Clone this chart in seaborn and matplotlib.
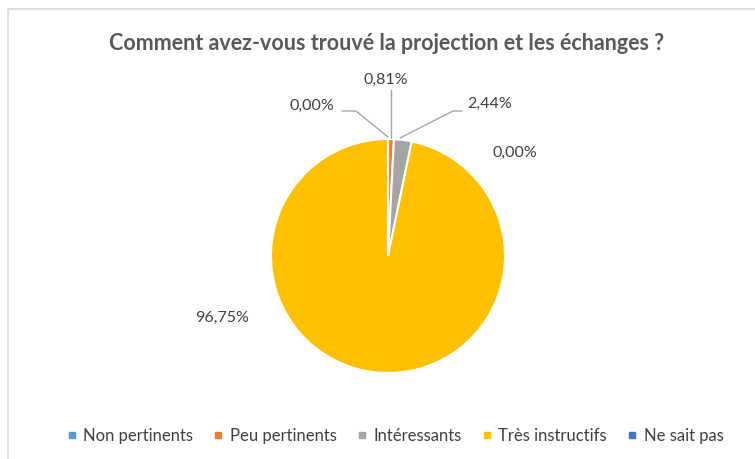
import matplotlib
matplotlib.use("Agg")
import matplotlib.pyplot as plt
from matplotlib.lines import Line2D
import seaborn as sns

categories = ["Non pertinents", "Peu pertinents", "Intéressants", "Très instructifs", "Ne sait pas"]
values = [0.00, 0.81, 2.44, 96.75, 0.00]
colors = ["#5B9BD5", "#ED7D31", "#A5A5A5", "#FFC000", "#4472C4"]
title = "Comment avez-vous trouvé la projection et les échanges ?"

sns.set_theme(style="white")
plt.rcParams['font.family'] = ['Lato', 'DejaVu Sans']

W, H = 755, 459
fig = plt.figure(figsize=(W / 100, H / 100), dpi=100)
fig.patch.set_facecolor("white")

cx, cy, r = 388, 256, 117
ax = fig.add_axes([(cx - r) / W, (H - cy - r) / H, 2 * r / W, 2 * r / H])
ax.pie(values, colors=colors, startangle=90, counterclock=False,
       wedgeprops=dict(edgecolor="white", linewidth=1.5))
ax.set_xlim(-1, 1)
ax.set_ylim(-1, 1)
ax.set_axis_off()

def d(px, py):
    return ((px - cx) / r, (cy - py) / r)

# label positions (pixels) and leader lines
label_pos = [(312, 106), (386, 80), (490, 104), (222, 318), (515, 153)]
leaders = [
    [(342, 111), (356, 111), (388, 137)],
    [(391, 90), (391, 138)],
    [(462, 111), (453, 111), (400, 138)],
    None,
    None,
]
for v, (px, py), ld in zip(values, label_pos, leaders):
    x, y = d(px, py)
    ax.text(x, y, f"{v:.2f}%".replace(".", ","), ha="center", va="center",
            fontsize=11.5, color="#404040", clip_on=False)
    if ld:
        xs = [d(p[0], p[1])[0] for p in ld]
        ys = [d(p[0], p[1])[1] for p in ld]
        ax.plot(xs, ys, color="#A6A6A6", lw=1, clip_on=False)

fig.text(387 / W, 1 - 44 / H, title, ha="center", va="center",
         fontsize=15.5, fontweight="bold", color="#595959")

handles = [Line2D([], [], marker="s", linestyle="none", markersize=5,
                  markerfacecolor=c, markeredgecolor=c) for c in colors]
fig.legend(handles, categories, loc="center", bbox_to_anchor=(395 / W, 1 - 436 / H),
           ncol=5, frameon=False, fontsize=12, handlelength=0.6, handletextpad=0.4,
           columnspacing=1.2, labelcolor="#404040")

# chart frame (partially visible)
fig.add_artist(Line2D([8 / W, 8 / W], [0, 1 - 9 / H], transform=fig.transFigure,
                      color="#D9D9D9", lw=1.2))
fig.add_artist(Line2D([8 / W, 1], [1 - 9 / H, 1 - 9 / H], transform=fig.transFigure,
                      color="#D9D9D9", lw=1.2))

fig.savefig("out.png", dpi=100, facecolor="white")
